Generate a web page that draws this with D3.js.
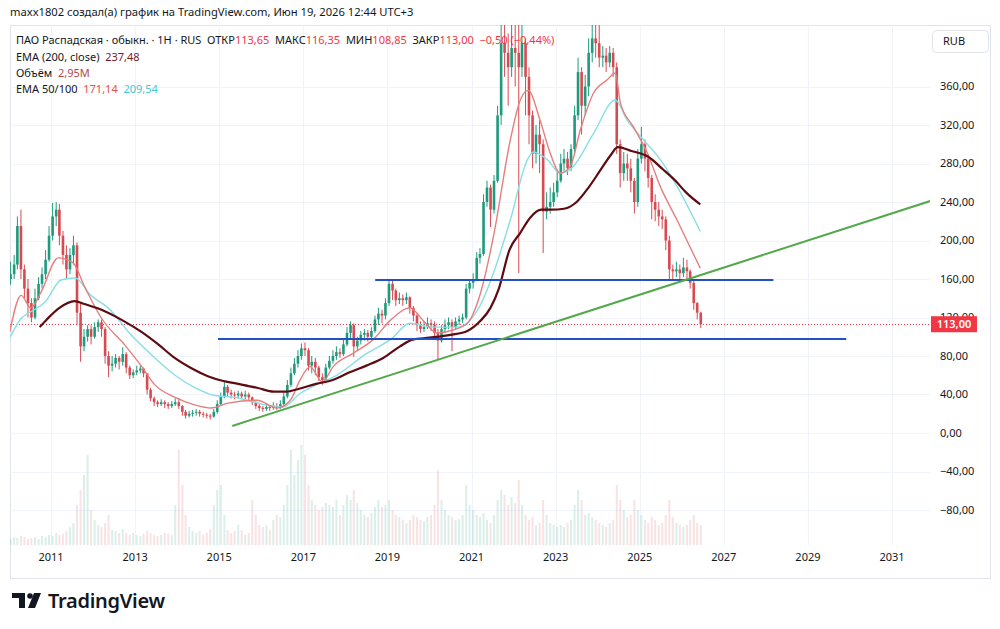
<!DOCTYPE html>
<html>
<head>
<meta charset="utf-8">
<script src="https://cdn.jsdelivr.net/npm/d3@7"></script>
<style>
  body { margin: 0; background: #fff; }
  text { font-family: "Noto Sans", sans-serif; }
</style>
</head>
<body>
<svg id="chart"></svg>
<script>
// monthly candles from Jan 2010: [high, low, close]
const candles = [
  // 2010
  [178,154,165],[185,160,175],[225,170,215],[232,160,170],[175,140,150],[160,120,135],[140,115,120],[150,118,140],[162,138,155],[172,150,165],[190,160,180],[215,178,205],
  // 2011
  [239,200,225],[240,215,232],[238,195,205],[210,175,185],[195,160,170],[192,165,185],[205,175,195],[198,112,125],[135,74,90],[108,85,100],[112,95,108],[112,92,100],
  // 2012
  [115,98,110],[118,105,115],[118,100,108],[110,72,80],[85,58,70],[80,64,72],[82,68,78],[80,66,74],[89,70,82],[84,62,68],[70,56,60],[66,57,63],
  // 2013
  [70,60,65],[70,62,67],[68,58,62],[62,40,45],[47,33,36],[38,28,32],[34,27,30],[35,28,32],[34,26,30],[32,25,28],[33,26,30],[36,28,32],
  // 2014
  [36,25,28],[29,18,22],[24,15,18],[23,16,20],[24,17,21],[25,18,22],[24,17,20],[22,16,19],[21,15,18],[20,14,17],[25,16,22],[34,20,30],
  // 2015
  [42,28,38],[54,36,48],[50,38,42],[45,36,40],[43,35,39],[44,36,41],[43,35,38],[44,35,40],[42,34,37],[38,29,32],[33,25,28],[30,23,26],
  // 2016
  [28,22,25],[30,23,27],[29,23,26],[32,24,28],[31,24,27],[34,25,30],[42,29,38],[55,36,50],[68,48,62],[78,60,72],[86,68,80],[93,76,88],
  // 2017
  [94,80,86],[88,65,70],[80,62,74],[78,60,68],[70,54,58],[62,50,55],[72,54,68],[80,66,75],[86,72,80],[90,76,84],[88,78,82],[98,80,92],
  // 2018
  [110,90,104],[116,98,112],[114,79,90],[100,86,96],[106,92,102],[108,96,104],[107,95,100],[110,98,106],[122,104,118],[130,112,124],[128,114,122],[140,118,135],
  // 2019
  [158,132,155],[158,138,148],[150,132,138],[146,134,140],[144,132,138],[146,134,141],[142,124,130],[132,116,122],[124,106,112],[116,104,108],[116,105,110],[120,108,114],
  // 2020
  [118,106,112],[116,98,104],[108,76,96],[112,94,108],[118,104,112],[120,108,115],[118,85,110],[120,108,116],[122,112,118],[124,114,120],[155,118,150],[160,145,156],
  // 2021
  [166,150,160],[188,158,182],[192,176,186],[248,184,240],[262,235,255],[258,214,232],[268,228,262],[340,260,330],[430,320,405],[430,370,395],[415,340,380],[430,370,400],
  // 2022
  [430,360,395],[430,166,380],[430,370,405],[410,330,370],[380,300,330],[335,275,290],[320,280,310],[325,270,300],[305,187,230],[250,222,235],[255,228,240],[260,235,250],
  // 2023
  [272,245,262],[290,260,280],[295,272,285],[292,268,275],[300,272,295],[340,290,330],[390,325,375],[380,310,340],[372,330,360],[410,350,395],[430,385,410],[430,390,405],
  // 2024
  [430,380,390],[402,380,392],[400,375,385],[402,380,395],[400,370,380],[385,290,300],[305,255,270],[292,262,280],[290,262,275],[285,250,262],[265,228,240],[295,235,285],
  // 2025
  [318,280,300],[305,272,285],[290,255,265],[268,222,240],[248,220,232],[240,215,225],[232,212,222],[225,190,200],[205,160,170],[175,158,168],[178,162,170],[175,160,166],
  // 2026
  [182,162,172],[180,160,168],[170,150,156],[158,128,135],[136,118,125],[126,109,113]
];
const firstOpen = 160;

// monthly volume (relative)
const volumes = [
  6,8,7,9,8,6,7,8,6,9,8,10,
  9,12,10,11,14,18,22,40,55,70,90,35,
  25,20,18,22,30,15,14,12,16,12,10,12,
  10,9,11,14,12,10,9,10,12,11,10,40,
  95,60,30,18,14,12,14,10,12,16,40,55,
  60,30,15,12,14,20,15,10,12,45,30,20,
  18,20,15,25,30,28,40,60,95,70,85,100,
  90,60,45,40,35,38,42,40,38,45,30,40,
  50,45,55,42,35,30,28,32,38,45,38,40,
  45,35,30,28,25,22,25,30,28,25,24,28,
  30,40,75,45,35,30,28,25,26,30,60,40,
  35,30,28,32,25,22,30,45,55,50,40,48,
  42,65,40,30,25,28,20,22,45,30,22,20,
  18,20,18,22,25,40,55,45,30,32,28,25,
  22,20,18,22,25,60,45,35,28,30,45,35,
  30,25,22,28,25,20,22,30,45,28,22,20,
  18,20,25,30,22,20
];

// moving averages: [decimal year, value]
const ema200 = [[2010.73,110],[2010.9,118],[2011.2,130],[2011.56,137],[2011.8,134],[2012.2,128],[2012.7,117],[2013.15,105],[2013.55,92],[2013.94,78],[2014.35,67],[2014.73,59],[2015.1,54],[2015.45,51],[2015.9,47],[2016.3,43],[2016.6,43],[2016.9,46],[2017.3,51],[2017.7,55],[2018.1,63],[2018.5,70],[2018.9,78],[2019.3,90],[2019.6,97],[2020.0,99],[2020.5,102],[2020.9,106],[2021.2,116],[2021.45,130],[2021.65,150],[2021.9,190],[2022.16,208],[2022.4,224],[2022.66,232],[2022.9,232],[2023.2,233],[2023.5,240],[2023.8,256],[2024.05,272],[2024.3,288],[2024.48,297],[2024.8,293],[2025.2,287],[2025.55,274],[2025.85,262],[2026.1,250],[2026.44,237.5]];
const ema50 = [[2010.02,105],[2010.29,143],[2010.52,130],[2010.76,146],[2011.17,182],[2011.52,177],[2011.81,151],[2012.19,120],[2012.76,91],[2013.14,70],[2013.47,50],[2013.95,37],[2014.43,29],[2014.81,26],[2015.21,31],[2015.9,34],[2016.38,26],[2016.69,34],[2016.92,55],[2017.16,69],[2017.45,53],[2017.71,69],[2018.19,83],[2018.66,97],[2019.07,117],[2019.54,130],[2019.85,117],[2020.18,104],[2020.56,107],[2020.9,114],[2021.21,145],[2021.52,204],[2021.92,304],[2022.16,346],[2022.35,356],[2022.63,325],[2022.87,291],[2023.11,270],[2023.35,277],[2023.59,315],[2023.9,353],[2024.23,367],[2024.42,374],[2024.54,343],[2024.85,318],[2025.18,291],[2025.49,256],[2025.89,221],[2026.2,193],[2026.44,171.1]];
const ema100 = [[2010.02,99],[2010.29,119],[2010.52,126],[2010.86,136],[2011.24,159],[2011.57,161],[2011.95,143],[2012.36,130],[2012.9,102],[2013.47,78],[2013.95,60],[2014.43,47],[2014.9,39],[2015.38,37],[2016.14,29],[2016.52,27],[2016.92,41],[2017.4,52],[2017.71,58],[2018.52,83],[2019.07,97],[2019.54,114],[2020.09,110],[2020.66,110],[2021.21,133],[2021.52,166],[2021.92,221],[2022.33,284],[2022.47,292],[2022.8,284],[2023.11,270],[2023.42,277],[2023.9,311],[2024.42,346],[2024.7,325],[2025.02,308],[2025.49,284],[2025.89,256],[2026.44,209.5]];

// drawn levels
const levels = [
  { from: 2018.71, to: 2028.18, value: 159 },
  { from: 2014.97, to: 2029.91, value: 97.7 }
];
const trend = [[2015.31, 7.3], [2031.91, 241]];

const priceTicks = d3.range(-80, 361, 40);
const yearTicks = d3.range(2011, 2032, 2);
const lastPrice = 113;

const W = 1000, H = 629;
const plotLeft = 10, plotRight = 930, plotTop = 25, volBase = 545, frameRight = 990, frameBottom = 578;

const svg = d3.select("#chart").attr("width", W).attr("height", H)
  .style("background", "#fff");

const dt = t => {
  const yr = Math.floor(t);
  const s = new Date(yr, 0, 1), e = new Date(yr + 1, 0, 1);
  return new Date(+s + (t - yr) * (e - s));
};

const x = d3.scaleTime()
  .domain([new Date(2011, 0, 1), new Date(2031, 0, 1)])
  .range([51, 892]);
const y = d3.scaleLinear().domain([0, 360]).range([433, 86.5]);
const yVol = d3.scaleLinear().domain([0, 100]).range([volBase, 445]);

// candle objects
let prev = firstOpen;
const bars = candles.map((c, i) => {
  const d = { date: new Date(2010, i, 15), open: prev, high: c[0], low: c[1], close: c[2], vol: volumes[i] };
  prev = c[2];
  return d;
});

// frame
svg.append("rect")
  .attr("x", plotLeft + 0.5).attr("y", plotTop + 0.5)
  .attr("width", frameRight - plotLeft).attr("height", frameBottom - plotTop)
  .attr("fill", "none").attr("stroke", "#e0e3eb");

// grid
svg.append("g").selectAll("line").data(priceTicks).join("line")
  .attr("x1", plotLeft).attr("x2", plotRight)
  .attr("y1", d => Math.round(y(d)) + 0.5).attr("y2", d => Math.round(y(d)) + 0.5)
  .attr("stroke", "#f0f3fa");
svg.append("g").selectAll("line").data(yearTicks).join("line")
  .attr("x1", d => Math.round(x(new Date(d, 0, 1))) + 0.5)
  .attr("x2", d => Math.round(x(new Date(d, 0, 1))) + 0.5)
  .attr("y1", plotTop).attr("y2", volBase)
  .attr("stroke", "#f0f3fa");

svg.append("clipPath").attr("id", "plot")
  .append("rect").attr("x", plotLeft).attr("y", plotTop)
  .attr("width", plotRight - plotLeft).attr("height", volBase - plotTop);

const plot = svg.append("g").attr("clip-path", "url(#plot)");

const up = "#1f9a7c", down = "#d84a52";

// volume
plot.append("g").selectAll("rect").data(bars).join("rect")
  .attr("x", d => x(d.date) - 1)
  .attr("width", 2)
  .attr("y", d => yVol(d.vol))
  .attr("height", d => volBase - yVol(d.vol))
  .attr("fill", d => d.close >= d.open ? up : down)
  .attr("opacity", 0.16);

// last price dotted line
plot.append("line")
  .attr("x1", plotLeft).attr("x2", plotRight)
  .attr("y1", Math.round(y(lastPrice)) + 0.5).attr("y2", Math.round(y(lastPrice)) + 0.5)
  .attr("stroke", "#f23645").attr("stroke-dasharray", "1,2");

// candles
const cg = plot.append("g").selectAll("g").data(bars).join("g")
  .attr("stroke", d => d.close >= d.open ? up : down)
  .attr("fill", d => d.close >= d.open ? up : down);
cg.append("line")
  .attr("x1", d => x(d.date)).attr("x2", d => x(d.date))
  .attr("y1", d => y(d.high)).attr("y2", d => y(d.low))
  .attr("stroke-width", 1);
cg.append("rect")
  .attr("x", d => x(d.date) - 1.3)
  .attr("width", 2.6)
  .attr("y", d => y(Math.max(d.open, d.close)))
  .attr("height", d => Math.max(1, Math.abs(y(d.open) - y(d.close))))
  .attr("stroke", "none");

// moving averages
const line = d3.line().x(d => x(dt(d[0]))).y(d => y(d[1])).curve(d3.curveMonotoneX);
plot.append("path").datum(ema100).attr("d", line)
  .attr("fill", "none").attr("stroke", "#86dfe6").attr("stroke-width", 1.4);
plot.append("path").datum(ema50).attr("d", line)
  .attr("fill", "none").attr("stroke", "#e57f7c").attr("stroke-width", 1.4);
plot.append("path").datum(ema200).attr("d", line)
  .attr("fill", "none").attr("stroke", "#5e0c12").attr("stroke-width", 2.2);

// drawings
plot.append("g").selectAll("line").data(levels).join("line")
  .attr("x1", d => x(dt(d.from))).attr("x2", d => x(dt(d.to)))
  .attr("y1", d => y(d.value)).attr("y2", d => y(d.value))
  .attr("stroke", "#2350c4").attr("stroke-width", 2);
plot.append("line")
  .attr("x1", x(dt(trend[0][0]))).attr("y1", y(trend[0][1]))
  .attr("x2", x(dt(trend[1][0]))).attr("y2", y(trend[1][1]))
  .attr("stroke", "#53a84a").attr("stroke-width", 2);

// price axis
const fmt = v => (v < 0 ? "\u2212" : "") + Math.abs(v).toFixed(2).replace(".", ",");
svg.append("g").selectAll("text").data(priceTicks).join("text")
  .attr("x", 940).attr("y", d => y(d)).attr("dy", "0.35em")
  .attr("font-size", 11).attr("fill", "#131722")
  .text(fmt);

svg.append("rect").attr("x", 932.5).attr("y", 30.5).attr("width", 56).attr("height", 22)
  .attr("rx", 4).attr("fill", "#fff").attr("stroke", "#e0e3eb");
svg.append("text").attr("x", 943).attr("y", 45).attr("font-size", 11).attr("fill", "#131722").text("RUB");

svg.append("rect").attr("x", 931).attr("y", y(lastPrice) - 8).attr("width", 46).attr("height", 16)
  .attr("fill", "#f23645");
svg.append("text").attr("x", 954).attr("y", y(lastPrice)).attr("dy", "0.35em")
  .attr("text-anchor", "middle").attr("font-size", 11).attr("font-weight", 600)
  .attr("fill", "#fff").text(fmt(lastPrice));

// time axis
svg.append("g").selectAll("text").data(yearTicks).join("text")
  .attr("x", d => x(new Date(d, 0, 1))).attr("y", 561)
  .attr("text-anchor", "middle").attr("font-size", 11).attr("fill", "#131722")
  .text(d => d);

// header + legend
svg.append("text").attr("x", 10).attr("y", 16).attr("font-size", 11.2).attr("fill", "#131722")
  .text("maxx1802 создал(а) график на TradingView.com, Июн 19, 2026 12:44 UTC+3");

const red = "#f23645";
const legendRows = [
  [["ПАО Распадская · обыкн. · 1Н · RUS  ", "#131722"], ["ОТКР", "#131722"], ["113,65  ", red], ["МАКС", "#131722"], ["116,35  ", red],
   ["МИН", "#131722"], ["108,85  ", red], ["ЗАКР", "#131722"], ["113,00  ", red], ["−0,50 (−0,44%)", red]],
  [["EMA (200, close)  ", "#131722"], ["237,48", "#7b1a1f"]],
  [["Объём  ", "#131722"], ["2,95M", "#b0474c"]],
  [["EMA 50/100  ", "#131722"], ["171,14  ", "#e0524f"], ["209,54", "#3ec9d6"]]
];
const rowY = [44, 61, 77, 93];
legendRows.forEach((row, i) => {
  const t = svg.append("text").attr("x", 16).attr("y", rowY[i]).attr("font-size", 11)
    .style("white-space", "pre");
  row.forEach(([s, c]) => t.append("tspan").attr("fill", c).text(s));
});

// logo
const logo = svg.append("g").attr("fill", "#131722");
logo.append("path").attr("d", "M12 593 H25 V608 H19 V598 H12 Z");
logo.append("circle").attr("cx", 30).attr("cy", 596).attr("r", 2.8);
logo.append("path").attr("d", "M34 593 H41 L35 608 H28 Z");
logo.append("text").attr("x", 48).attr("y", 608).attr("font-size", 20).attr("font-weight", 600)
  .attr("letter-spacing", -0.3).text("TradingView");
</script>
</body>
</html>
